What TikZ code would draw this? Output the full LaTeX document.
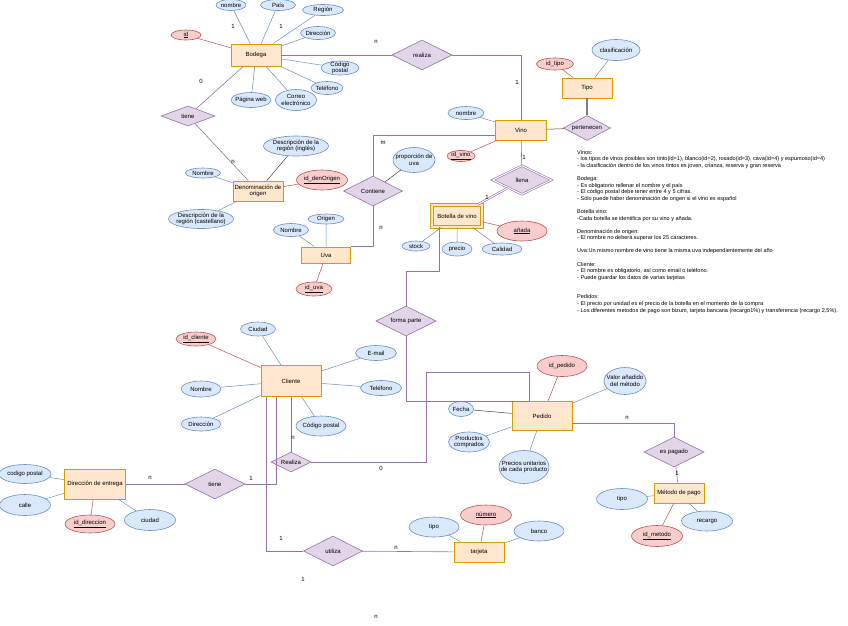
\documentclass[tikz,border=0pt]{standalone}
\usepackage{fontspec}
\setmainfont{Liberation Sans}
\usetikzlibrary{shapes.geometric}
\definecolor{entF}{HTML}{FFE6CC}
\definecolor{entD}{HTML}{D79B00}
\definecolor{attF}{HTML}{DAE8FC}
\definecolor{attD}{HTML}{6C8EBF}
\definecolor{keyF}{HTML}{F8CECC}
\definecolor{keyD}{HTML}{B85450}
\definecolor{relF}{HTML}{E1D5E7}
\definecolor{relD}{HTML}{9673A6}
\begin{document}
\begin{tikzpicture}[x=1pt,y=-1pt,
		every node/.style={font=\fontsize{6}{6.7}\selectfont,align=center},
		wh/.style 2 args={minimum width=#1pt,minimum height=#2pt},
		ent/.style={rectangle,draw=entD,fill=entF,line width=.9pt,inner sep=0pt},
		attr/.style={ellipse,draw=attD,fill=attF,line width=.6pt,inner xsep=-8pt,inner ysep=-3pt},
		keyat/.style={ellipse,draw=keyD,fill=keyF,line width=.6pt,inner xsep=-8pt,inner ysep=-3pt},
		rel/.style={diamond,draw=relD,fill=relF,line width=.6pt,inner sep=-3pt},
		card/.style={inner sep=0pt},
		la/.style={draw=attD,line width=.5pt},
		lk/.style={draw=keyD,line width=.5pt},
		lr/.style={draw=relD,line width=.6pt},
		ld/.style={draw=black!75,line width=.5pt}]
	\fill[white] (0,0) rectangle (848,625);
	\useasboundingbox (0,0) rectangle (848,625);

	\node[ent,wh={50}{22}] (bodega) at (256,55) {Bodega};
	\node[ent,wh={51}{20}] (vino) at (521,130) {Vino};
	\node[ent,wh={50}{20}] (tipo) at (587,88) {Tipo};
	\node[ent,wh={50}{22},double=entF,double distance=1.4pt] (botella) at (457,216) {Botella de vino};
	\node[ent,wh={50}{20}] (dorigen) at (258,191) {Denominación de\\origen};
	\node[ent,wh={49}{16}] (uva) at (326,255) {Uva};
	\node[ent,wh={60}{31}] (cliente) at (291,381) {Cliente};
	\node[ent,wh={60}{29}] (pedido) at (542,416) {Pedido};
	\node[ent,wh={50}{20}] (metodo) at (679,493) {Método de pago};
	\node[ent,wh={61}{30}] (entrega) at (95,484) {Dirección de entrega};
	\node[ent,wh={50}{20}] (tarjeta) at (479,552) {tarjeta};

	\node[rel,wh={60}{30}] (realiza) at (422,55) {realiza};
	\node[rel,wh={54}{20}] (tieneB) at (188,116) {tiene};
	\node[rel,wh={47}{25}] (pertenecen) at (587,128) {pertenecen};
	\node[rel,wh={59}{29},double,double distance=1pt] (llena) at (522,180) {llena};
	\node[rel,wh={59}{30}] (contiene) at (373,191) {Contiene};
	\node[rel,wh={60}{30}] (formaParte) at (406,321) {forma parte};
	\node[rel,wh={40}{20}] (realizaC) at (291,462) {Realiza};
	\node[rel,wh={60}{30}] (esPagado) at (674,452) {es pagado};
	\node[rel,wh={60}{30}] (tieneE) at (215,484) {tiene};
	\node[rel,wh={59}{30}] (utiliza) at (333,551) {utiliza};

	\node[keyat,wh={30}{10}] (idB) at (186,35) {\underline{id}};
	\node[attr,wh={30}{11}] (nombreB) at (231,5) {nombre};
	\node[attr,wh={35}{11}] (paisB) at (278,5) {País};
	\node[attr,wh={41}{11}] (regionB) at (323,10) {Región};
	\node[attr,wh={35}{13}] (direccionB) at (318,33) {Dirección};
	\node[attr,wh={38}{14}] (cpB) at (340,68) {Código\\postal};
	\node[attr,wh={32}{13}] (telefonoB) at (327,88) {Teléfono};
	\node[attr,wh={40}{15}] (webB) at (251,100) {Página web};
	\node[attr,wh={41}{21}] (correoB) at (296,100) {Correo\\electrónico};

	\node[attr,wh={36}{13}] (nombreV) at (466,113) {nombre};
	\node[keyat,wh={28}{11}] (idV) at (461,156) {\underline{id\_vino}};
	\node[keyat,wh={37}{12}] (idT) at (555,64) {id\_tipo};
	\node[attr,wh={48}{21}] (clasif) at (616,50) {clasificación};
	\node[attr,wh={42}{25}] (proporcion) at (414,160) {proporción de\\uva};
	\node[keyat,wh={50}{20}] (anada) at (522,231) {\underline{añada}};
	\node[attr,wh={28}{10}] (stock) at (416,246) {stock};
	\node[attr,wh={30}{14}] (precio) at (457,249) {precio};
	\node[attr,wh={40}{12}] (calidad) at (502,249) {Calidad};

	\node[attr,wh={65}{20}] (ingles) at (296,146) {Descripción de la\\región (inglés)};
	\node[attr,wh={35}{10}] (nombreD) at (203,173) {Nombre};
	\node[keyat,wh={51}{20}] (idD) at (322,180) {\underline{id\_denOrigen}};
	\node[attr,wh={65}{19}] (castellano) at (201,219) {Descripción de la\\región (castellano)};
	\node[attr,wh={35}{13}] (nombreU) at (291,230) {Nombre};
	\node[attr,wh={36}{10}] (origenU) at (326,219) {Origen};
	\node[keyat,wh={36}{14}] (idU) at (314,289) {\underline{id\_uva}};

	\node[keyat,wh={40}{14}] (idC) at (196,339) {\underline{id\_cliente}};
	\node[attr,wh={35}{14}] (ciudadC) at (258,329) {Ciudad};
	\node[attr,wh={41}{15}] (emailC) at (376,353) {E-mail};
	\node[attr,wh={41}{15}] (telefonoC) at (381,388) {Teléfono};
	\node[attr,wh={40}{16}] (nombreC) at (201,389) {Nombre};
	\node[attr,wh={40}{14}] (direccionC) at (201,424) {Dirección};
	\node[attr,wh={50}{20}] (cpC) at (321,426) {Código postal};

	\node[keyat,wh={50}{21}] (idP) at (562,366) {id\_pedido};
	\node[attr,wh={42}{27}] (valor) at (625,381) {Valor añadido\\del método};
	\node[attr,wh={25}{15}] (fecha) at (461,409) {Fecha};
	\node[attr,wh={41}{20}] (productos) at (469,442) {Productos\\comprados};
	\node[attr,wh={50}{33}] (precios) at (524,467) {Precios unitarios\\de cada producto};

	\node[attr,wh={51}{21}] (tipoM) at (622,499) {tipo};
	\node[attr,wh={51}{20}] (recargo) at (707,521) {recargo};
	\node[keyat,wh={51}{21}] (idM) at (657,536) {\underline{id\_metodo}};

	\node[attr,wh={52}{19}] (cpE) at (25,474) {codigo postal};
	\node[attr,wh={51}{21}] (calle) at (25,505) {calle};
	\node[keyat,wh={50}{18}] (idE) at (90,524) {\underline{id\_direccion}};
	\node[attr,wh={51}{21}] (ciudadE) at (150,520) {ciudad};

	\node[attr,wh={50}{20}] (tipoT) at (434,527) {tipo};
	\node[keyat,wh={51}{20}] (numero) at (486,515) {\underline{número}};
	\node[attr,wh={50}{20}] (banco) at (539,531) {banco};

	\draw[lk] (idB) -- (bodega);
	\draw[la] (bodega) -- (nombreB) (bodega) -- (paisB) (bodega) -- (regionB) (bodega) -- (direccionB)
		(bodega) -- (cpB) (bodega) -- (telefonoB) (bodega) -- (webB) (bodega) -- (correoB);
	\draw[lr] (bodega) -- (tieneB) -- (dorigen);
	\draw[lr] (bodega) -- (realiza);
	\draw[lr] (realiza) -| (vino);

	\draw[la] (nombreV) -- (vino);
	\draw[lk] (idV) -- (vino);
	\draw[ld] (vino) -- (pertenecen);
	\draw[draw=gray,line width=1.2pt] (tipo) -- (pertenecen);
	\draw[lk] (idT) -- (tipo);
	\draw[la] (clasif) -- (tipo);
	\draw[lr] (vino) -- (llena);
	\draw[lr,double,double distance=1pt] (llena) -- (botella);
	\draw[la] (botella) -- (stock) (botella) -- (precio) (botella) -- (calidad);
	\draw[lk] (botella) -- (anada);

	\draw[lr] (contiene) |- ([yshift=-5pt]vino.west);
	\draw[ld] (contiene) -- (proporcion);
	\draw[lr] (contiene) |- (uva.north east);
	\draw[ld] (dorigen) -- (ingles);
	\draw[lk] (idD) -- (dorigen);
	\draw[la] (nombreD) -- (dorigen) (castellano) -- (dorigen);
	\draw[la] (nombreU) -- (uva) (origenU) -- (uva);
	\draw[lk] (idU) -- (uva);

	\coordinate (fpA) at (406,271);
	\coordinate (rcA) at (426,372);
	\draw[lr] ([xshift=-18pt]botella.south) |- (fpA) -- (formaParte);
	\draw[lr] (formaParte) |- ([xshift=-12pt]pedido.north);
	\draw[lr] (realizaC) -| (rcA) -| ([xshift=-13pt]pedido.north);
	\draw[lr] (cliente) -- (realizaC);
	\draw[lr] ([xshift=-15pt]cliente.south) |- (tieneE);
	\draw[lr] ([xshift=-25pt]cliente.south) |- (utiliza);
	\draw[lr] (utiliza) -- (tarjeta);
	\draw[lr] (tieneE) -- (entrega);
	\draw[lr] ([yshift=-7pt]pedido.east) -| (esPagado);
	\draw[lr] (esPagado) -- (metodo);

	\draw[lk] (idC) -- (cliente);
	\draw[la] (ciudadC) -- (cliente) (emailC) -- (cliente) (telefonoC) -- (cliente)
		(nombreC) -- (cliente) (direccionC) -- (cliente) (cpC) -- (cliente);
	\draw[lk] (idP) -- (pedido);
	\draw[la] (valor) -- (pedido) (productos) -- (pedido) (precios) -- (pedido);
	\draw[ld] (fecha) -- (pedido);
	\draw[la] (tipoM) -- (metodo) (recargo) -- (metodo);
	\draw[lk] (idM) -- (metodo);
	\draw[la] (cpE) -- (entrega) (calle) -- (entrega) (ciudadE) -- (entrega);
	\draw[lk] (idE) -- (entrega);
	\draw[la] (tipoT) -- (tarjeta) (banco) -- (tarjeta);
	\draw[lk] (numero) -- (tarjeta);

	\node[card] (c1) at (233,26) {1};
	\node[card] (c2) at (281,26) {1};
	\node[card] (c3) at (201,81) {0};
	\node[card] (c4) at (376,42) {n};
	\node[card] (c5) at (517,82) {1};
	\node[card] (c6) at (383,143) {m};
	\node[card] (c7) at (381,228) {n};
	\node[card] (c8) at (233,162) {n};
	\node[card] (c9) at (524,157) {1};
	\node[card] (c10) at (487,197) {1};
	\node[card] (c11) at (293,438) {n};
	\node[card] (c12) at (381,468) {0};
	\node[card] (c13) at (627,418) {n};
	\node[card] (c14) at (677,473) {1};
	\node[card] (c15) at (150,478) {n};
	\node[card] (c16) at (251,478) {1};
	\node[card] (c17) at (281,538) {1};
	\node[card] (c18) at (396,548) {n};
	\node[card] (c19) at (303,579) {1};
	\node[card] (c20) at (376,617) {n};

	\node[anchor=north west,inner sep=0pt,align=left,font=\fontsize{5.55}{6.58}\selectfont] (notas) at (577,150)
		{Vinos:\\
		- los tipos de vinos posibles son tinto(id=1), blanco(id=2), rosado(id=3), cava(id=4) y espumoso(id=4)\\
		- la clasificación dentro de los vinos tintos es joven, crianza, reserva y gran reserva\\[6.58pt]
		Bodega:\\
		- Es obligatorio rellenar el nombre y el país\\
		- El código postal debe tener entre 4 y 5 cifras.\\
		- Sólo puede haber denominación de origen si el vino es español\\[6.58pt]
		Botella vino:\\
		-Cada botella se identifica por su vino y añada.\\[6.58pt]
		Denominación de origen:\\
		- El nombre no deberá superar los 25 caracteres.\\[6.58pt]
		Uva:Un mismo nombre de vino tiene la misma uva independientemente del año\\[6.58pt]
		Cliente:\\
		- El nombre es obligatorio, así como email o teléfono.\\
		- Puede guardar los datos de varias tarjetas\\[13.16pt]
		Pedidos:\\
		- El precio por unidad es el precio de la botella en el momento de la compra\\
		- Los diferentes metodos de pago son bizum, tarjeta bancaria (recargo1\%) y transferencia (recargo 2,5\%).};
\end{tikzpicture}
\end{document}
